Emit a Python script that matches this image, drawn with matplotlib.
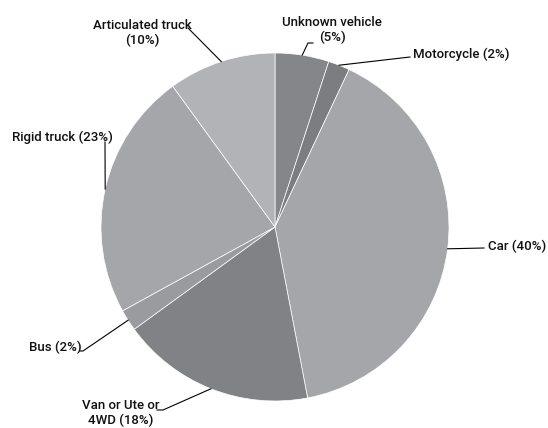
import numpy as np
import matplotlib
matplotlib.use("Agg")
from matplotlib import pyplot as plt

# 数据
categories = ["Unknown vehicle", "Motorcycle", "Car", "Van or Ute or 4WD",
              "Bus", "Rigid truck", "Articulated truck"]
shares = [5, 2, 40, 18, 2, 23, 10]
label_texts = ["Unknown vehicle\n(5%)", "Motorcycle (2%)", "Car (40%)",
               "Van or Ute or\n4WD (18%)", "Bus (2%)", "Rigid truck (23%)",
               "Articulated truck\n(10%)"]
colors = ["#858689", "#7c7d80", "#a5a6a9", "#818285", "#9a9b9e", "#a5a6a9", "#b2b3b6"]

W, H = 548, 428


def P(x, y):
    # 像素坐标 -> 数据坐标 (y 轴向上)
    return x, H - y


# 标签位置 (像素): 文字位置, 对齐, 引线折点
layout = [
    ((332, 30), "center", [(308, 43), (313, 43)]),
    ((413, 54), "left", [(410, 57)]),
    ((488, 246), "left", [(484, 248)]),
    ((121, 413), "center", [(163, 410), (157, 410)]),
    ((82, 347), "right", [(83, 351), (80, 351)]),
    ((12, 137), "left", [(105, 142)]),
    ((142, 33), "center", [(188, 28)]),
]

plt.rcParams['font.family'] = ['Roboto', 'DejaVu Sans']
fig = plt.figure(figsize=(W / 100, H / 100), dpi=100)
ax = fig.add_axes([0, 0, 1, 1])

wedges, _ = ax.pie(shares, colors=colors, startangle=90, counterclock=False,
                   center=P(275, 227), radius=174,
                   wedgeprops=dict(edgecolor="white", linewidth=0.5))

for w, txt, (pos, ha, pts) in zip(wedges, label_texts, layout):
    mid = np.deg2rad((w.theta1 + w.theta2) / 2)
    cx, cy = w.center
    ax_pt = (cx + w.r * np.cos(mid), cy + w.r * np.sin(mid))
    xs = [ax_pt[0]] + [p[0] for p in pts]
    ys = [ax_pt[1]] + [H - p[1] for p in pts]
    ax.plot(xs, ys, color="black", lw=0.8)
    ax.text(*P(*pos), txt, ha=ha, va="center", multialignment="center",
            fontsize=9.5, fontweight="medium", color="#111111", linespacing=1.2)

ax.set_xlim(0, W)
ax.set_ylim(0, H)
ax.set_aspect("equal")
ax.axis("off")

fig.savefig("out.png", dpi=100)
